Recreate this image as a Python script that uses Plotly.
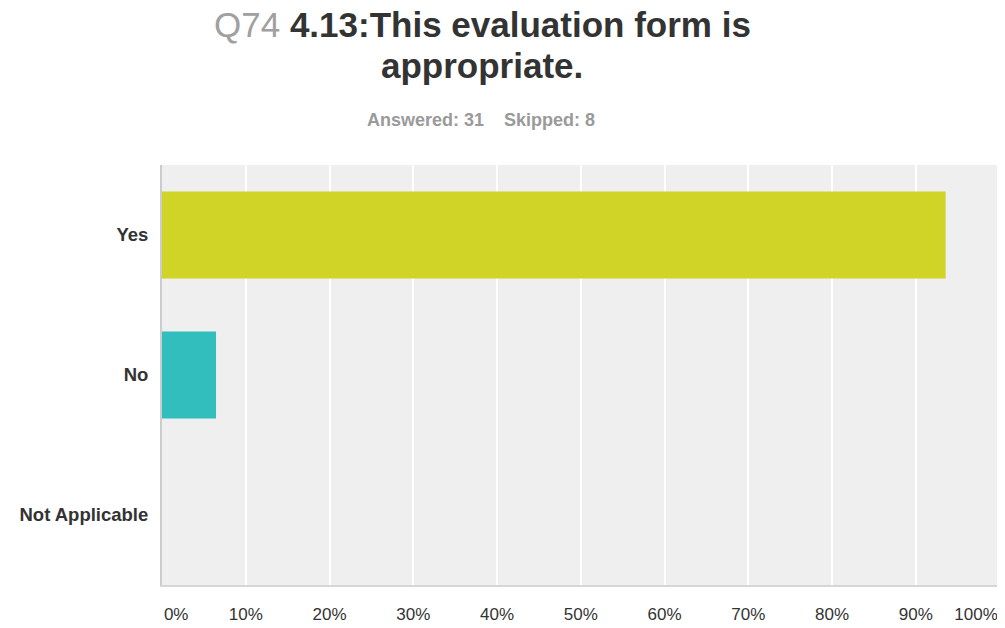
import plotly.graph_objects as go

categories = ["Yes", "No", "Not Applicable"]
percent_values = [93.55, 6.45, 0.0]
bar_colors = ["#cfd427", "#33bebe", "#cccccc"]
tick_values = [0, 10, 20, 30, 40, 50, 60, 70, 80, 90, 100]
tick_labels = ["0%", "10%", "20%", "30%", "40%", "50%", "60%", "70%", "80%", "90%", "100%"]

nb = "\u00a0"
shown_labels = list(tick_labels)
shown_labels[0] = nb * 6 + tick_labels[0]
shown_labels[-1] = tick_labels[-1] + nb * 10

# page offset of the browser (body margin) is 8px; coordinates below are in figure pixels
OFF = 8
W, H = 1005 - OFF, 628 - OFF
L = 162 - OFF
R = 1003 - OFF
T = 165 - OFF
B = 585 - OFF
plot_w = R - L
plot_h = B - T

def px_x(x):
    return (x - OFF - L) / plot_w

def px_y(y):
    return (B - (y - OFF)) / plot_h

FONT = "Liberation Sans, Arial, sans-serif"

fig = go.Figure()
fig.add_trace(go.Bar(
    x=percent_values,
    y=categories,
    orientation="h",
    marker=dict(color=bar_colors, line=dict(width=0)),
    width=0.62,
    hoverinfo="x+y",
))

fig.update_layout(
    width=W,
    height=H,
    margin=dict(l=L, r=W - R, t=T, b=H - B, autoexpand=False),
    paper_bgcolor="white",
    plot_bgcolor="#efefef",
    showlegend=False,
    font=dict(family=FONT, color="#333333"),
    xaxis=dict(
        range=[0, 100.4],
        tickvals=tick_values,
        ticktext=shown_labels,
        showgrid=True,
        gridcolor="white",
        gridwidth=2,
        zeroline=False,
        showline=True,
        linecolor="#d6d6d6",
        linewidth=2,
        ticks="outside",
        ticklen=13,
        tickcolor="rgba(0,0,0,0)",
        tickfont=dict(size=17, color="#333333"),
        ticklabeloverflow="allow",
        fixedrange=True,
        automargin=False,
    ),
    yaxis=dict(
        categoryorder="array",
        categoryarray=categories,
        autorange="reversed",
        showgrid=False,
        zeroline=False,
        showline=True,
        linecolor="#cccccc",
        linewidth=2,
        ticks="outside",
        ticklen=8,
        tickcolor="rgba(0,0,0,0)",
        tickfont=dict(size=18.5, color="#333333", weight="bold"),
        fixedrange=True,
        automargin=False,
    ),
    annotations=[
        dict(
            text="<span style='color:#a0a0a0'>Q74</span> <b>4.13:This evaluation form is</b>",
            xref="paper", yref="paper", x=px_x(482), y=px_y(24),
            xanchor="center", yanchor="middle", showarrow=False,
            font=dict(size=35, color="#333333", family=FONT),
        ),
        dict(
            text="<b>appropriate.</b>",
            xref="paper", yref="paper", x=px_x(482), y=px_y(66),
            xanchor="center", yanchor="middle", showarrow=False,
            font=dict(size=35, color="#333333", family=FONT),
        ),
        dict(
            text="<b>Answered: 31" + nb * 4 + "Skipped: 8</b>",
            xref="paper", yref="paper", x=px_x(481), y=px_y(120),
            xanchor="center", yanchor="middle", showarrow=False,
            font=dict(size=18, color="#9a9a9a", family=FONT),
        ),
    ],
)

fig.write_html("out.html")
